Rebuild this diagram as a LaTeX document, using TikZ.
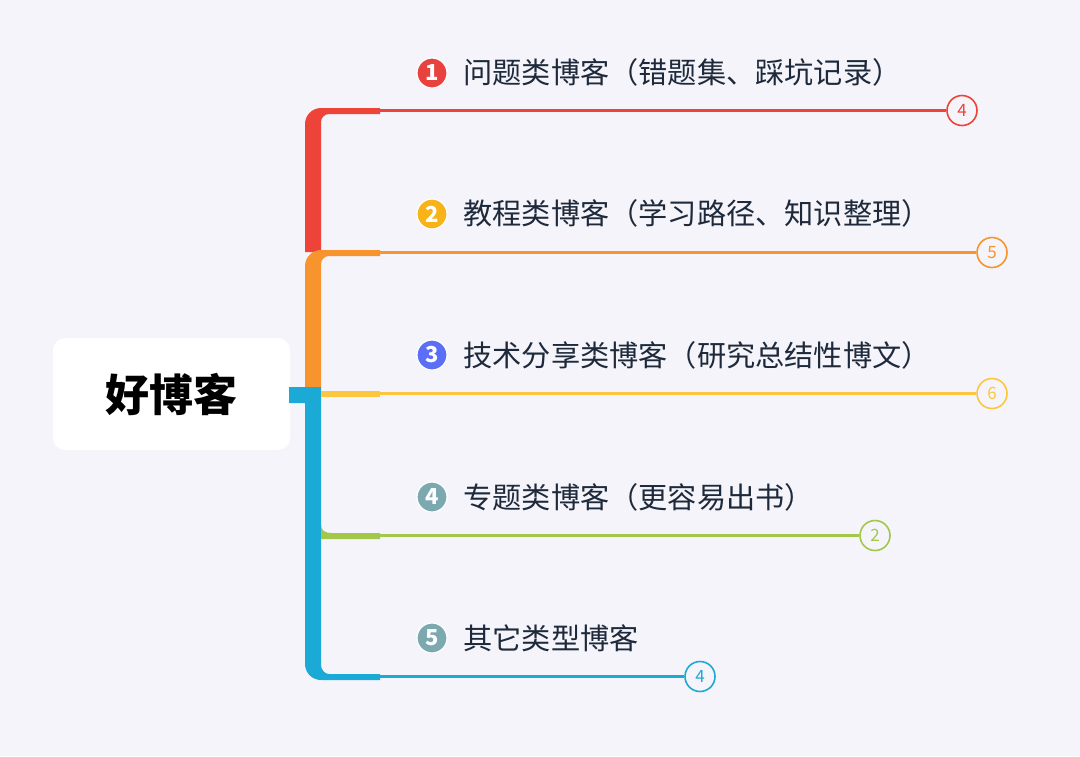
\documentclass[tikz,border=0pt]{standalone}
\usepackage{fontspec}
\newfontfamily\cjk{Noto Sans CJK SC}
\definecolor{bg}{HTML}{F4F4FA}
\definecolor{txt}{HTML}{1E2A3B}
\definecolor{bred}{HTML}{EE4338}
\definecolor{borange}{HTML}{F7942E}
\definecolor{byellow}{HTML}{FCC73F}
\definecolor{bgreen}{HTML}{A2C74A}
\definecolor{bblue}{HTML}{1BAAD5}
\definecolor{nred}{HTML}{E8423F}
\definecolor{nyellow}{HTML}{F7B318}
\definecolor{nblue}{HTML}{5B6EF6}
\definecolor{nteal}{HTML}{7BA9AF}
\tikzset{
  lbl/.style={anchor=west, inner sep=0pt, text=txt, font=\cjk\fontsize{14.6}{16}\selectfont},
  numc/.style={circle, fill=#1, draw=white, line width=0.6pt, minimum size=15pt, inner sep=0pt, text=white, font=\cjk\bfseries\fontsize{11}{11}\selectfont},
  endc/.style={circle, draw=#1, fill=bg, line width=0.8pt, minimum size=15pt, inner sep=0pt, text=#1, font=\cjk\fontsize{8.5}{9}\selectfont},
  thin/.style={draw=#1, line width=1.4pt},
}
\begin{document}
\begin{tikzpicture}[x=0.5pt,y=-0.5pt]
\fill[bg] (0,0) rectangle (1080,756);
\useasboundingbox (0,0) rectangle (1080,756);

% root
\node[fill=white, rounded corners=6pt, minimum width=118.5pt, minimum height=56pt, inner sep=0pt,
      font=\cjk\bfseries\fontsize{22}{26}\selectfont, text=black] (root) at (171.5,394) {好博客};

% trunk: red
\fill[bred] (305,252) -- (305,124) .. controls (305,115.2) and (312.2,108) .. (321,108)
  -- (380,108) -- (380,114) -- (329,114) .. controls (324.6,114) and (321,117.6) .. (321,122)
  -- (321,252) -- cycle;
% trunk: orange
\fill[borange] (305,388) -- (305,266) .. controls (305,257.2) and (312.2,250) .. (321,250)
  -- (380,250) -- (380,256) -- (329,256) .. controls (324.6,256) and (321,259.6) .. (321,264)
  -- (321,388) -- cycle;
% trunk: blue
\fill[bblue] (289,387) -- (321,387) -- (321,665) .. controls (321,669.4) and (324.6,674) .. (329,674)
  -- (380,674) -- (380,680) -- (321,680) .. controls (312.2,680) and (305,672.8) .. (305,664)
  -- (305,403) -- (289,403) -- cycle;
% yellow stub
\fill[byellow] (321,391) rectangle (380,397);
% green stub
\fill[bgreen] (321,524) .. controls (321,530) and (324,533) .. (332,533) -- (380,533) -- (380,539) -- (321,539) -- cycle;

% end coordinates of thick parts
\coordinate (s1) at (380,110.5);
\coordinate (s2) at (380,252.5);
\coordinate (s3) at (380,393.5);
\coordinate (s4) at (380,535.5);
\coordinate (s5) at (380,676.5);

% end circles
\node[endc=bred] (e1) at (962,110.5) {4};
\node[endc=borange] (e2) at (992,252.5) {5};
\node[endc=byellow] (e3) at (992,393.5) {6};
\node[endc=bgreen] (e4) at (875,535.5) {2};
\node[endc=bblue] (e5) at (700,676.5) {4};

\draw[thin=bred] (s1) -- (e1.west);
\draw[thin=borange] (s2) -- (e2.west);
\draw[thin=byellow] (s3) -- (e3.west);
\draw[thin=bgreen] (s4) -- (e4.west);
\draw[thin=bblue] (s5) -- (e5.west);

% number badges
\node[numc=nred] (n1) at (432,73) {1};
\node[numc=nyellow] (n2) at (432,214) {2};
\node[numc=nblue] (n3) at (432,355) {3};
\node[numc=nteal] (n4) at (432,497) {4};
\node[numc=nteal] (n5) at (432,638) {5};

% labels
\node[lbl] (t1) at (463,72) {问题类博客（错题集、踩坑记录）};
\node[lbl] (t2) at (463,213) {教程类博客（学习路径、知识整理）};
\node[lbl] (t3) at (463,355) {技术分享类博客（研究总结性博文）};
\node[lbl] (t4) at (463,497) {专题类博客（更容易出书）};
\node[lbl] (t5) at (463,638) {其它类型博客};
\end{tikzpicture}
\end{document}
